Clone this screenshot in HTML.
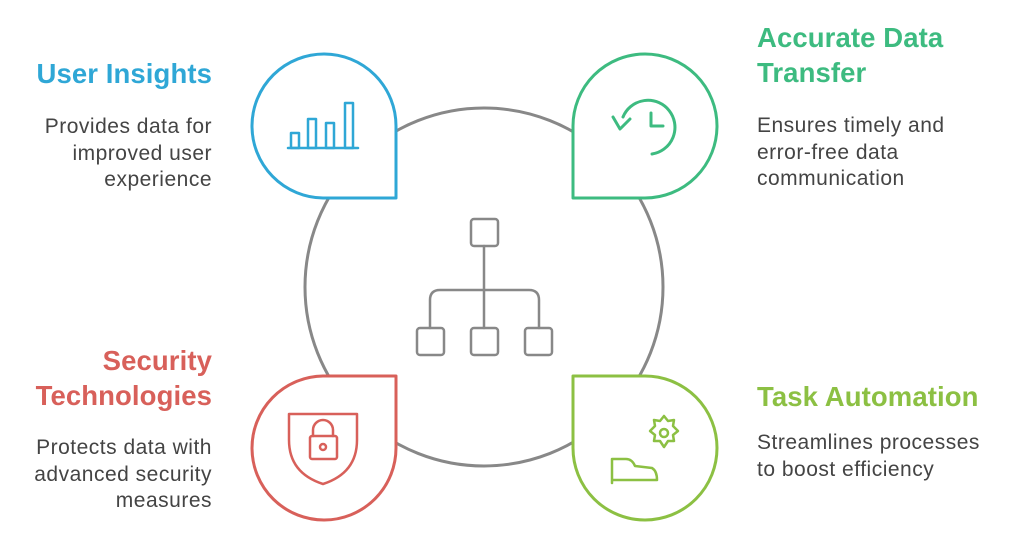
<!DOCTYPE html>
<html><head><meta charset="utf-8"><style>
html,body{margin:0;padding:0;background:#fff}
body{width:1024px;height:547px;position:relative;overflow:hidden;font-family:"Liberation Sans",sans-serif}
.t{position:absolute;font-weight:bold;font-size:27.5px;line-height:35px;white-space:nowrap;letter-spacing:0.1px}
.d{position:absolute;font-size:21px;line-height:26.5px;color:#444;white-space:nowrap;letter-spacing:0.5px}
.r{text-align:right}
</style></head><body>
<svg width="1024" height="547" style="position:absolute;left:0;top:0" fill="none" stroke-linecap="round" stroke-linejoin="round">
<circle cx="484" cy="287" r="179" stroke="#888" stroke-width="3"/>
<path d="M396,198 L323,198 A72,72 0 1 1 396,126 Z" fill="#fff" stroke="#2fa7d6" stroke-width="3"/>
<path d="M573,198 L645,198 A72,72 0 1 0 573,126 Z" fill="#fff" stroke="#3dbb80" stroke-width="3"/>
<path d="M396,376 L323,376 A72,72 0 1 0 396,448 Z" fill="#fff" stroke="#d8605a" stroke-width="3"/>
<path d="M573,376 L645,376 A72,72 0 1 1 573,448 Z" fill="#fff" stroke="#8cc043" stroke-width="3"/>
<g stroke="#2fa7d6" stroke-width="2.5">
<line x1="288" y1="148" x2="358" y2="148"/>
<rect x="291" y="133" width="8" height="15"/>
<rect x="308" y="119" width="8" height="29"/>
<rect x="326" y="123" width="8" height="25"/>
<rect x="345" y="103" width="8" height="45"/>
</g>
<g stroke="#3dbb80" stroke-width="3">
<path d="M623,117 A27,27 0 1 1 652,154"/>
<polyline points="613,117 620,129 630,119"/>
<polyline points="651,113 651,126 663,126"/>
</g>
<g stroke="#d8605a" stroke-width="2.5">
<path d="M289,414 L357,414 L357,440 Q357,473 323,484 Q289,473 289,440 Z"/>
<rect x="310" y="436" width="27" height="23" rx="2"/>
<path d="M313,436 L313,430 A10,10 0 0 1 333,430 L333,436"/>
<circle cx="323" cy="447" r="3"/>
</g>
<g stroke="#8cc043" stroke-width="2.5">
<path d="M664,416 l4,5 6,-1 -1,6 5,5 -5,4 1,6 -6,0 -4,6 -4,-6 -6,0 1,-6 -5,-4 5,-5 -1,-6 6,1 z"/>
<circle cx="664" cy="433" r="4"/>
<path d="M612,459 L612,483 M612,459 L626,459 Q632,459 635,466 L652,468 Q657,471 657,480 L612,480"/>
</g>
<g stroke="#888" stroke-width="2.5">
<rect x="471" y="219" width="27" height="27" rx="3"/>
<line x1="484" y1="246" x2="484" y2="328"/>
<path d="M430,328 L430,300 Q430,290 440,290 L529,290 Q539,290 539,300 L539,328"/>
<rect x="417" y="328" width="27" height="27" rx="3"/>
<rect x="471" y="328" width="27" height="27" rx="3"/>
<rect x="525" y="328" width="27" height="27" rx="3"/>
</g>
</svg>
<div class="t r" style="right:812px;top:56px;color:#2fa7d6">User Insights</div>
<div class="d r" style="right:812px;top:114px">Provides data for<br>improved user<br>experience</div>
<div class="t" style="left:757px;top:20px;color:#3dbb80">Accurate Data<br>Transfer</div>
<div class="d" style="left:757px;top:113px">Ensures timely and<br>error-free data<br>communication</div>
<div class="t r" style="right:812px;top:343px;color:#d8605a">Security<br>Technologies</div>
<div class="d r" style="right:812px;top:435px">Protects data with<br>advanced security<br>measures</div>
<div class="t" style="left:757px;top:379px;color:#8cc043">Task Automation</div>
<div class="d" style="left:757px;top:430px">Streamlines processes<br>to boost efficiency</div>
</body></html>
